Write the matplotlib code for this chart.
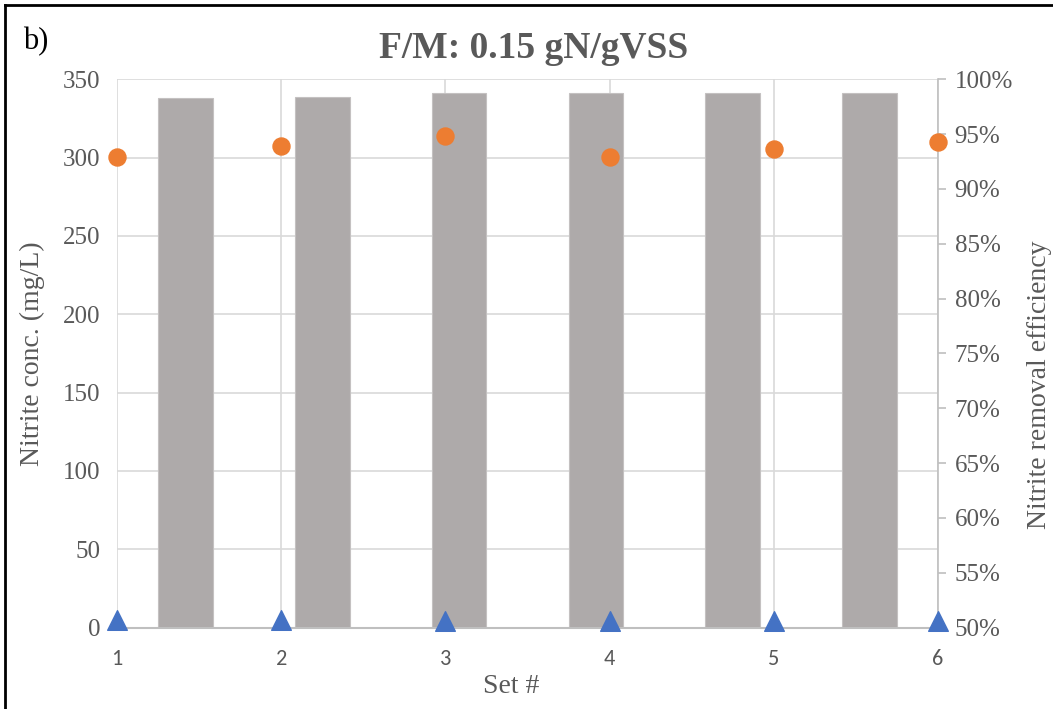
import matplotlib
matplotlib.use("Agg")
import matplotlib.pyplot as plt
from matplotlib.lines import Line2D
import numpy as np

# data
sets = [1, 2, 3, 4, 5, 6]
influent = [338, 338.5, 341, 341, 341, 341]           # grey bars, mg/L
effluent = [5, 5, 4, 4, 4, 4]                          # blue triangles, mg/L
efficiency = [92.9, 93.9, 94.8, 92.9, 93.6, 94.3]      # orange dots, %

grey = "#AEAAAA"
orange = "#ED7D31"
blue = "#4472C4"
txt = "#595959"
grid = "#D9D9D9"
serif = ["Liberation Serif", "DejaVu Serif"]
sans = ["Carlito", "Open Sans", "DejaVu Sans"]

fig = plt.figure(figsize=(10.53, 7.09), dpi=100)
ax = fig.add_axes([0.1111, 0.1147, 0.7797, 0.7735])
ax2 = ax.twinx()

ax.set_xlim(1, 6)
ax.set_ylim(0, 350)
ax2.set_ylim(50, 100)

# bars sit on a category axis: 6 equal slots spread between x=1 and x=6
n = len(sets)
slot = (sets[-1] - sets[0]) / n
bar_x = [sets[0] + slot * (i + 0.5) for i in range(n)]
ax.bar(bar_x, influent, width=slot * 0.4, color=grey, edgecolor="#C4C1C1",
       linewidth=0.8, zorder=2)
# triangles use the left scale but are drawn on the top axes so they cover the right spine
ax2.scatter(sets, effluent, marker="^", s=200, color=blue, zorder=4, clip_on=False,
            transform=ax.transData)
ax2.scatter(sets, efficiency, marker="o", s=150, color=orange, zorder=4, clip_on=False)

ax.set_xlim(1, 6)
ax.set_ylim(0, 350)
ax.set_yticks(np.arange(0, 351, 50))
ax.set_xticks(sets)
ax2.set_ylim(50, 100)
ax2.set_yticks(np.arange(50, 101, 5))
ax2.set_yticklabels([f"{v}%" for v in range(50, 101, 5)])

ax.grid(True, color=grid, linewidth=1.2, zorder=0)
ax.set_axisbelow(True)
for sp in ["top", "left", "right"]:
    ax.spines[sp].set_visible(False)
    ax2.spines[sp].set_visible(False)
ax2.spines["bottom"].set_visible(False)
ax.spines["bottom"].set_color("#BFBFBF")
ax.spines["bottom"].set_linewidth(1.5)
ax.spines["bottom"].set_zorder(3)
ax2.spines["right"].set_visible(True)
ax2.spines["right"].set_color("#BFBFBF")
ax2.spines["right"].set_linewidth(1.2)
ax2.spines["right"].set_zorder(1)

ax.tick_params(axis="y", length=0, pad=12, labelcolor=txt)
ax.tick_params(axis="x", length=0, pad=15, labelcolor=txt)
ax2.tick_params(axis="y", length=6, width=1.2, color="#BFBFBF", pad=6, labelcolor=txt)
for lab in ax.get_yticklabels() + ax2.get_yticklabels():
    lab.set_family(serif)
    lab.set_fontsize(18)
for lab in ax.get_xticklabels():
    lab.set_family(sans)
    lab.set_fontsize(16)

ax.set_ylabel("Nitrite conc. (mg/L)", family=serif, fontsize=20, color=txt)
ax.yaxis.set_label_coords(-0.088, 0.5)
ax2.set_ylabel("Nitrite removal efficiency", family=serif, fontsize=20, color=txt)
ax2.yaxis.set_label_coords(1.108, 0.443)
ax.set_xlabel("Set #", family=serif, fontsize=20, color=txt)
ax.xaxis.set_label_coords(0.48, -0.085)
ax.set_title("F/M: 0.15 gN/gVSS", family=serif, fontsize=27, fontweight="bold",
             color=txt, pad=15, x=0.508)
fig.text(0.022, 0.93, "b)", family=serif, fontsize=22, color="black")

# frame on the left and top edges
fig.add_artist(Line2D([0.0043, 0.0043], [0, 0.993], color="black", linewidth=2))
fig.add_artist(Line2D([0.0043, 1], [0.993, 0.993], color="black", linewidth=2))

fig.savefig("out.png", dpi=100)
